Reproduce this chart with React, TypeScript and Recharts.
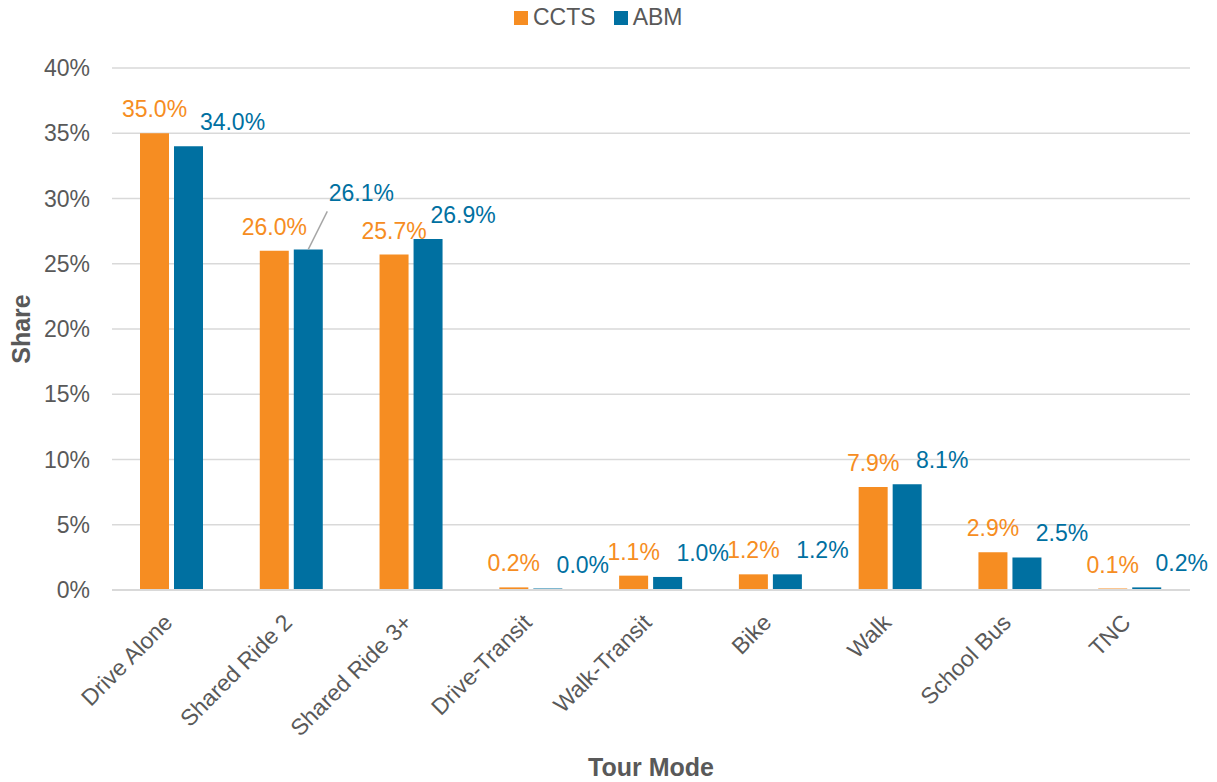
import { BarChart, Bar, XAxis, YAxis, CartesianGrid, LabelList, Label } from "recharts";

const modes = [
  "Drive Alone",
  "Shared Ride 2",
  "Shared Ride 3+",
  "Drive-Transit",
  "Walk-Transit",
  "Bike",
  "Walk",
  "School Bus",
  "TNC",
];
const cctsShare = [35.0, 26.0, 25.7, 0.2, 1.1, 1.2, 7.9, 2.9, 0.1];
const abmShare = [34.0, 26.1, 26.9, 0.04, 1.0, 1.2, 8.1, 2.5, 0.2];
const shareTicks = [0, 5, 10, 15, 20, 25, 30, 35, 40];
const seriesNames = ["CCTS", "ABM"];

const ORANGE = "#F68D22";
const BLUE = "#0070A1";
const TEXT = "#595959";
const GRID = "#D9D9D9";
const FONT = "'Liberation Sans', Arial, sans-serif";

const data = modes.map((mode, i) => ({ mode, ccts: cctsShare[i], abm: abmShare[i] }));

// a few ABM labels were nudged by hand in the original
const abmNudge: Record<string, { dx: number; lift: number; leader?: boolean }> = {
  "Drive Alone": { dx: 44, lift: 16 },
  "Shared Ride 2": { dx: 53, lift: 48, leader: true },
};

const CctsLabel = (p: any) => {
  const cx = p.x + p.width / 2;
  return (
    <text x={cx} y={p.y - 16} textAnchor="middle" fill={ORANGE} fontSize={23} fontFamily={FONT}>
      {Number(p.value).toFixed(1)}%
    </text>
  );
};

const AbmLabel = (p: any) => {
  const cx = p.x + p.width / 2;
  const nudge = abmNudge[modes[p.index]] || { dx: 35, lift: 16 };
  return (
    <g>
      {nudge.leader && (
        <line x1={cx + 19} y1={p.y - 38} x2={cx} y2={p.y} stroke="#A6A6A6" strokeWidth={1.5} />
      )}
      <text
        x={cx + nudge.dx}
        y={p.y - nudge.lift}
        textAnchor="middle"
        fill={BLUE}
        fontSize={23}
        fontFamily={FONT}
      >
        {Number(p.value).toFixed(1)}%
      </text>
    </g>
  );
};

const ModeTick = (p: any) => (
  <g transform={`translate(${p.x + 2},${p.y + 34})`}>
    <text
      x={0}
      y={0}
      transform="rotate(-45)"
      textAnchor="end"
      fill={TEXT}
      fontSize={23}
      fontFamily={FONT}
    >
      {p.payload.value}
    </text>
  </g>
);

const legendColors = [ORANGE, BLUE];

export default function App() {
  return (
    <div style={{ position: "absolute", left: 0, top: 0, width: 1217, height: 782, fontFamily: FONT }}>
      <div
        style={{
          position: "absolute",
          top: 4,
          left: 514,
          display: "flex",
          alignItems: "center",
          fontSize: 23,
          color: TEXT,
        }}
      >
        {seriesNames.map((name, i) => (
          <div key={name} style={{ display: "flex", alignItems: "center", marginRight: 18 }}>
            <span
              style={{
                display: "inline-block",
                width: 14,
                height: 14,
                background: legendColors[i],
                marginRight: 5,
              }}
            />
            <span>{name}</span>
          </div>
        ))}
      </div>
      <BarChart
        width={1217}
        height={782}
        data={data}
        margin={{ top: 68, right: 27, bottom: 0, left: 0 }}
        barSize={29}
        barGap={5}
      >
        <CartesianGrid vertical={false} stroke={GRID} strokeWidth={1.5} />
        <XAxis
          dataKey="mode"
          height={192}
          interval={0}
          tickLine={false}
          tickSize={0}
          tickMargin={0}
          axisLine={{ stroke: GRID, strokeWidth: 2 }}
          tick={<ModeTick />}
        >
          <Label
            content={(lp: any) => {
              const vb = lp.viewBox;
              return (
                <text
                  x={vb.x + vb.width / 2}
                  y={776}
                  textAnchor="middle"
                  fill={TEXT}
                  fontSize={25}
                  fontWeight="bold"
                  fontFamily={FONT}
                >
                  Tour Mode
                </text>
              );
            }}
          />
        </XAxis>
        <YAxis
          width={112}
          domain={[0, 40]}
          ticks={shareTicks}
          tickFormatter={(v: number) => `${v}%`}
          tickLine={false}
          axisLine={false}
          tickSize={0}
          tickMargin={22}
          tick={{ fill: TEXT, fontSize: 23, fontFamily: FONT }}
        >
          <Label
            content={(lp: any) => {
              const vb = lp.viewBox;
              const cy = vb.y + vb.height / 2;
              return (
                <text
                  x={21}
                  y={cy}
                  transform={`rotate(-90, 21, ${cy})`}
                  textAnchor="middle"
                  dominantBaseline="central"
                  fill={TEXT}
                  fontSize={25}
                  fontWeight="bold"
                  fontFamily={FONT}
                >
                  Share
                </text>
              );
            }}
          />
        </YAxis>
        <Bar dataKey="ccts" name="CCTS" fill={ORANGE} minPointSize={1.5} isAnimationActive={false}>
          <LabelList dataKey="ccts" content={<CctsLabel />} />
        </Bar>
        <Bar dataKey="abm" name="ABM" fill={BLUE} minPointSize={1.5} isAnimationActive={false}>
          <LabelList dataKey="abm" content={<AbmLabel />} />
        </Bar>
      </BarChart>
    </div>
  );
}
